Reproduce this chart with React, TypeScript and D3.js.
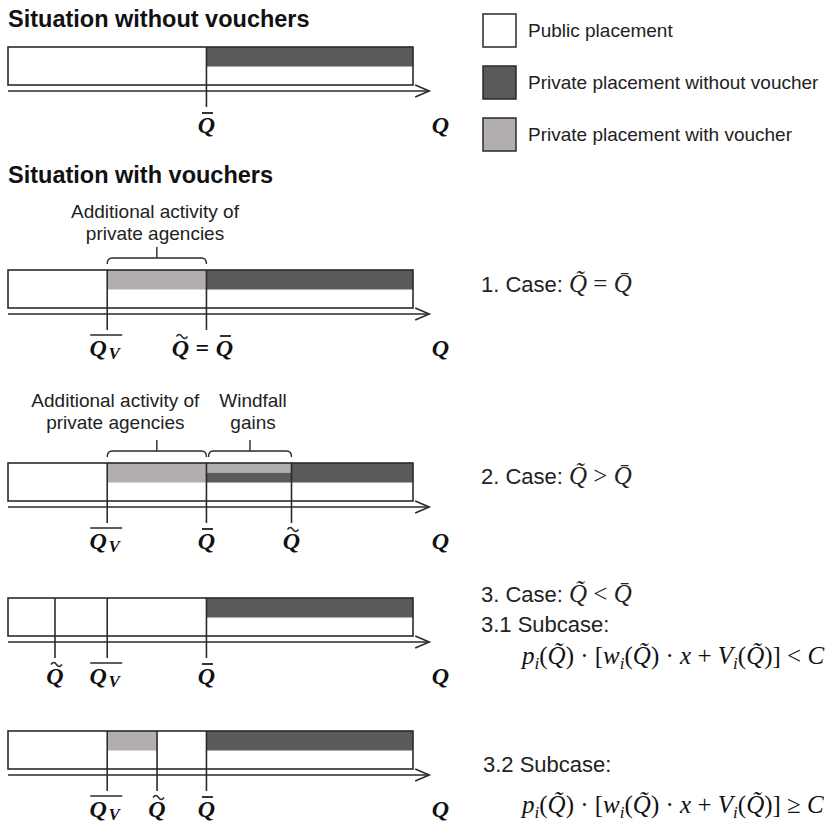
import React from 'react';
import * as d3 from 'd3';

// Quantity positions (Q axis runs 0..100, bar ends at 100)
const qMax = 100;
const qBarVal = 49;
const qVoucherVal = 24.5;
const qTildeCase2 = 70;
const qTildeCase31 = 11.6;
const qTildeCase32 = 36.8;

const legendItems = [
  { kind: 'public', label: 'Public placement' },
  { kind: 'private', label: 'Private placement without voucher' },
  { kind: 'voucher', label: 'Private placement with voucher' },
];

// segments: band 'upper' = top half of bar, 'upperA' / 'upperB' = the two quarters
const segsBase = [{ from: qBarVal, to: qMax, kind: 'private', band: 'upper' }];
const segsCase1 = [
  { from: qVoucherVal, to: qBarVal, kind: 'voucher', band: 'upper' },
  { from: qBarVal, to: qMax, kind: 'private', band: 'upper' },
];
const segsCase2 = [
  { from: qVoucherVal, to: qBarVal, kind: 'voucher', band: 'upper' },
  { from: qBarVal, to: qTildeCase2, kind: 'voucher', band: 'upperA' },
  { from: qBarVal, to: qTildeCase2, kind: 'private', band: 'upperB' },
  { from: qTildeCase2, to: qMax, kind: 'private', band: 'upper' },
];
const segsCase31 = [{ from: qBarVal, to: qMax, kind: 'private', band: 'upper' }];
const segsCase32 = [
  { from: qVoucherVal, to: qTildeCase32, kind: 'voucher', band: 'upper' },
  { from: qBarVal, to: qMax, kind: 'private', band: 'upper' },
];

const marksBase = [{ q: qBarVal, label: 'bar' }];
const marksCase1 = [
  { q: qVoucherVal, label: 'V' },
  { q: qBarVal, label: 'tildeEqBar' },
];
const marksCase2 = [
  { q: qVoucherVal, label: 'V' },
  { q: qBarVal, label: 'bar' },
  { q: qTildeCase2, label: 'tilde' },
];
const marksCase31 = [
  { q: qTildeCase31, label: 'tilde' },
  { q: qVoucherVal, label: 'V' },
  { q: qBarVal, label: 'bar' },
];
const marksCase32 = [
  { q: qVoucherVal, label: 'V' },
  { q: qTildeCase32, label: 'tilde' },
  { q: qBarVal, label: 'bar' },
];

const bracesCase1 = [
  { from: qVoucherVal, to: qBarVal, lines: ['Additional activity of', 'private agencies'], textAt: 36.3 },
];
const bracesCase2 = [
  { from: qVoucherVal, to: qBarVal, lines: ['Additional activity of', 'private agencies'], textAt: 26.5 },
  { from: qBarVal + 0.5, to: qTildeCase2, lines: ['Windfall', 'gains'], textAt: 60.5 },
];

// formula pieces: p_i(Q~) · [w_i(Q~) · x + V_i(Q~)] rel C
const formulaParts = [
  { t: 'p', it: true }, { t: 'i', it: true, sub: true }, { t: '(' }, { t: 'Q\u0303', it: true },
  { t: ') \u00b7 [' }, { t: 'w', it: true }, { t: 'i', it: true, sub: true }, { t: '(' },
  { t: 'Q\u0303', it: true }, { t: ') \u00b7 ' }, { t: 'x', it: true }, { t: ' + ' },
  { t: 'V', it: true }, { t: 'i', it: true, sub: true }, { t: '(' }, { t: 'Q\u0303', it: true },
  { t: ')] ' },
];

const panels = [
  { segs: segsBase, marks: marksBase, braces: [], top: 47, textOff: 0 },
  { segs: segsCase1, marks: marksCase1, braces: bracesCase1, top: 270, textOff: 52 },
  { segs: segsCase2, marks: marksCase2, braces: bracesCase2, top: 463, textOff: 56 },
  { segs: segsCase31, marks: marksCase31, braces: [], top: 598, textOff: 0 },
  { segs: segsCase32, marks: marksCase32, braces: [], top: 731, textOff: 0 },
];

const fills: Record<string, string> = {
  public: '#ffffff',
  private: '#5a5a5a',
  voucher: '#b2aead',
};

const INK = '#2a2a2a';
const SANS = 'Liberation Sans, Arial, sans-serif';
const SERIF = 'Liberation Serif, Times New Roman, serif';
const QSIZE = 24;
const FSIZE = 25;

const x = d3.scaleLinear().domain([0, qMax]).range([8, 413]);

const BAR_H = 38;
const HALF = 19.5;

function Tilde({ cx, y }: { cx: number; y: number }) {
  return (
    <path
      d={`M${cx - 5.5},${y + 1.5} q2.75,-3.8 5.5,0 t5.5,0`}
      fill="none"
      stroke={INK}
      strokeWidth={1.5}
    />
  );
}

function QGlyph({ cx, y, accent }: { cx: number; y: number; accent?: 'bar' | 'tilde' }) {
  return (
    <g>
      <text x={cx} y={y} textAnchor="middle" fontFamily={SERIF} fontWeight="bold" fontStyle="italic" fontSize={QSIZE} fill="#111">
        Q
      </text>
      {accent === 'bar' && <line x1={cx - 4.5} x2={cx + 6.5} y1={y - 20} y2={y - 20} stroke={INK} strokeWidth={1.9} />}
      {accent === 'tilde' && <Tilde cx={cx + 1.5} y={y - 21} />}
    </g>
  );
}

function MarkLabel({ cx, y, type }: { cx: number; y: number; type: string }) {
  if (type === 'bar') return <QGlyph cx={cx} y={y} accent="bar" />;
  if (type === 'tilde') return <QGlyph cx={cx} y={y} accent="tilde" />;
  if (type === 'V') {
    return (
      <g>
        <QGlyph cx={cx - 9} y={y} />
        <text x={cx + 7} y={y + 3} textAnchor="middle" fontFamily={SERIF} fontWeight="bold" fontStyle="italic" fontSize={17} fill="#111">
          V
        </text>
        <line x1={cx - 17} x2={cx + 15} y1={y - 21} y2={y - 21} stroke={INK} strokeWidth={1.5} />
      </g>
    );
  }
  // tilde = bar
  return (
    <g>
      <QGlyph cx={cx - 26} y={y} accent="tilde" />
      <text x={cx - 4} y={y} textAnchor="middle" fontFamily={SERIF} fontWeight="bold" fontSize={QSIZE} fill="#111">
        =
      </text>
      <QGlyph cx={cx + 18} y={y} accent="bar" />
    </g>
  );
}

function Panel({ p }: { p: (typeof panels)[number] }) {
  const top = p.top;
  const axisY = top + 44;
  const labelY = top + 86;
  const bandY = (band: string) => {
    if (band === 'upperA') return [top, top + HALF / 2];
    if (band === 'upperB') return [top + HALF / 2, top + HALF];
    return [top, top + HALF];
  };
  return (
    <g>
      {p.segs.map((s, i) => {
        const [y0, y1] = bandY(s.band);
        return <rect key={i} x={x(s.from)} y={y0} width={x(s.to) - x(s.from)} height={y1 - y0} fill={fills[s.kind]} />;
      })}
      <rect x={x(0)} y={top} width={x(qMax) - x(0)} height={BAR_H} fill="none" stroke={INK} strokeWidth={1.6} />
      {/* axis with open arrow */}
      <line x1={x(0)} x2={x(104)} y1={axisY} y2={axisY} stroke={INK} strokeWidth={1.6} />
      <path
        d={`M${x(104) - 14},${axisY - 6} L${x(104)},${axisY} L${x(104) - 14},${axisY + 6}`}
        fill="none"
        stroke={INK}
        strokeWidth={1.6}
      />
      {p.marks.map((m, i) => (
        <line key={i} x1={x(m.q)} x2={x(m.q)} y1={top} y2={top + 60} stroke={INK} strokeWidth={1.6} />
      ))}
      {p.marks.map((m, i) => (
        <MarkLabel key={i} cx={x(m.q)} y={labelY} type={m.label} />
      ))}
      <QGlyph cx={x(106.8)} y={labelY} />
      {p.braces.map((b, i) => {
        const x1 = x(b.from);
        const x2 = x(b.to);
        const mid = (x1 + x2) / 2;
        const by = top - 12;
        return (
          <g key={i}>
            <path
              d={`M${x1},${by + 6} Q${x1},${by} ${x1 + 5},${by} H${x2 - 5} Q${x2},${by} ${x2},${by + 6} M${mid},${by} V${by - 11}`}
              fill="none"
              stroke={INK}
              strokeWidth={1.4}
            />
            {b.lines.map((ln, j) => (
              <text
                key={j}
                x={x(b.textAt)}
                y={top - p.textOff + j * 22}
                textAnchor="middle"
                fontFamily={SANS}
                fontSize={19}
                fill="#222"
              >
                {ln}
              </text>
            ))}
          </g>
        );
      })}
    </g>
  );
}

function Formula({ x0, y, rel }: { x0: number; y: number; rel: string }) {
  const parts = [...formulaParts, { t: rel + ' ' }, { t: 'C', it: true }];
  let prevSub = false;
  return (
    <text x={x0} y={y} fontFamily={SERIF} fontSize={FSIZE} fill="#111">
      {parts.map((p, i) => {
        const sub = !!(p as any).sub;
        const dy = (sub ? 5 : 0) - (prevSub ? 5 : 0);
        prevSub = sub;
        return (
          <tspan key={i} dy={dy} fontStyle={(p as any).it ? 'italic' : 'normal'} fontSize={sub ? 17 : FSIZE}>
            {p.t}
          </tspan>
        );
      })}
    </text>
  );
}

function CaseText({ x0, y, prefix, rel }: { x0: number; y: number; prefix: string; rel: string }) {
  return (
    <text x={x0} y={y} fontFamily={SANS} fontSize={22} fill="#222">
      {prefix + ' '}
      <tspan fontFamily={SERIF} fontStyle="italic" fontSize={25}>{'Q\u0303'}</tspan>
      <tspan fontFamily={SERIF} fontSize={25}>{' ' + rel + ' '}</tspan>
      <tspan fontFamily={SERIF} fontStyle="italic" fontSize={25}>{'Q\u0304'}</tspan>
    </text>
  );
}

export default function App() {
  return (
    <svg
      width={839}
      height={824}
      style={{ position: 'absolute', left: 0, top: 0, background: '#fff' }}
    >
      <text x={8} y={27} fontFamily={SANS} fontWeight="bold" fontSize={23.5} fill="#111">
        Situation without vouchers
      </text>
      <text x={8} y={183} fontFamily={SANS} fontWeight="bold" fontSize={23.5} fill="#111">
        Situation with vouchers
      </text>

      {legendItems.map((d, i) => (
        <g key={d.kind}>
          <rect x={483} y={14 + i * 52} width={33} height={33} fill={fills[d.kind]} stroke={INK} strokeWidth={1.5} />
          <text x={528} y={37 + i * 52} fontFamily={SANS} fontSize={19} fill="#222">
            {d.label}
          </text>
        </g>
      ))}

      {panels.map((p, i) => (
        <Panel key={i} p={p} />
      ))}

      <CaseText x0={481} y={292} prefix="1. Case:" rel="=" />
      <CaseText x0={481} y={484} prefix="2. Case:" rel=">" />
      <CaseText x0={481} y={602} prefix="3. Case:" rel="<" />
      <text x={481} y={632} fontFamily={SANS} fontSize={22} fill="#222">3.1 Subcase:</text>
      <Formula x0={522} y={664} rel="<" />
      <text x={483} y={772} fontFamily={SANS} fontSize={22} fill="#222">3.2 Subcase:</text>
      <Formula x0={522} y={813} rel={'\u2265'} />
    </svg>
  );
}
